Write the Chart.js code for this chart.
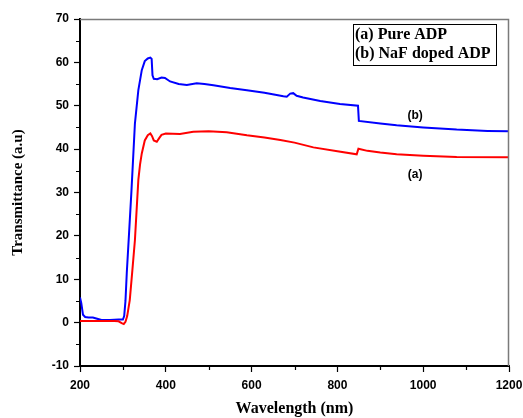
<!DOCTYPE html>
<html>
<head>
<meta charset="utf-8">
<script src="https://cdn.jsdelivr.net/npm/chart.js@4/dist/chart.umd.min.js"></script>
<style>
html,body{margin:0;padding:0;background:#fff;}
canvas{display:block;}
</style>
</head>
<body>
<canvas id="c" width="523" height="418"></canvas>
<script>
// (a) Pure ADP
const wavelengthA = [200,250,280,290,297,302,306,310,316,322,328,332,336,340,344,351,358,364,368,372,379,385,390,400,433,464,500,542,589,630,667,700,744,800,845,849,870,900,938,1000,1078,1200];
const transA      = [0.4,0.4,0.4,0.3,-0.1,-0.3,0.2,1.5,5.2,12,19,26,32.9,36.5,39,42,43.2,43.6,43.0,42.0,41.7,42.6,43.3,43.6,43.5,44.0,44.1,43.9,43.2,42.7,42.1,41.5,40.4,39.5,38.8,40.1,39.6,39.2,38.8,38.5,38.2,38.1];
// (b) NaF doped ADP
const wavelengthB = [200,203,207,212,220,230,240,250,270,290,300,303,306,309,314,320,328,336,344,351,358,364,367,369,372,380,390,398,410,430,449,472,490,511,550,589,630,674,682,690,697,705,720,760,806,848,850,900,938,1000,1078,1150,1200];
const transB      = [5.8,4.5,1.8,1.3,1.2,1.2,0.9,0.6,0.6,0.7,0.7,1.5,5,11.4,20,30.5,45.9,53.6,58.2,60.3,60.9,61.1,60.8,57,56.2,56.1,56.5,56.4,55.6,55.0,54.8,55.2,55.0,54.7,54.1,53.6,53.0,52.2,52.1,52.8,52.9,52.3,51.9,51.1,50.4,50.0,46.5,45.9,45.5,45.0,44.5,44.2,44.1];

const seriesNames = ['(a) Pure ADP', '(b) NaF doped ADP'];
const curveLabels = ['(a)', '(b)'];
const curveLabelPos = [[981, 34], [981, 47.8]];
const yMinorTicks = [-5,5,15,25,35,45,55,65];
const xMinorTicks = [300,500,700,900,1100];

const toPts = (xs, ys) => xs.map((x, i) => ({x: x, y: ys[i]}));

const extras = {
  id: 'extras',
  afterDraw(chart) {
    const ctx = chart.ctx;
    const a = chart.chartArea;
    const xs = chart.scales.x, ys = chart.scales.y;
    ctx.save();
    // top / right frame
    ctx.strokeStyle = '#7a7a7a';
    ctx.lineWidth = 1.5;
    ctx.beginPath();
    ctx.moveTo(a.left, a.top + 0.5);
    ctx.lineTo(a.right - 0.5, a.top + 0.5);
    ctx.lineTo(a.right - 0.5, a.bottom);
    ctx.stroke();
    // minor ticks
    ctx.strokeStyle = '#000';
    ctx.lineWidth = 1.2;
    ctx.beginPath();
    yMinorTicks.forEach(v => {
      const p = Math.round(ys.getPixelForValue(v)) + 0.5;
      ctx.moveTo(a.left - 4, p); ctx.lineTo(a.left, p);
    });
    xMinorTicks.forEach(v => {
      const p = Math.round(xs.getPixelForValue(v)) + 0.5;
      ctx.moveTo(p, a.bottom); ctx.lineTo(p, a.bottom + 4);
    });
    ctx.stroke();
    // curve labels
    ctx.fillStyle = '#000';
    ctx.font = 'bold 12px "Liberation Sans", Arial, sans-serif';
    ctx.textAlign = 'center';
    ctx.textBaseline = 'middle';
    curveLabels.forEach((t, i) => {
      ctx.fillText(t, xs.getPixelForValue(curveLabelPos[i][0]), ys.getPixelForValue(curveLabelPos[i][1]));
    });
    // legend box
    const bx = 353, by = 24, bw = 143, bh = 41;
    ctx.strokeStyle = '#000';
    ctx.lineWidth = 1;
    ctx.strokeRect(bx + 0.5, by + 0.5, bw, bh);
    ctx.font = 'bold 16px "Liberation Serif", "Times New Roman", serif';
    ctx.textAlign = 'left';
    ctx.fillText(seriesNames[0], bx + 2, by + 11);
    ctx.fillText(seriesNames[1], bx + 2, by + 30);
    ctx.restore();
  }
};

new Chart(document.getElementById('c'), {
  type: 'line',
  data: {
    datasets: [
      {label: seriesNames[0], data: toPts(wavelengthA, transA), borderColor: '#ff0000', borderWidth: 2, pointRadius: 0, tension: 0, fill: false},
      {label: seriesNames[1], data: toPts(wavelengthB, transB), borderColor: '#0000ff', borderWidth: 2, pointRadius: 0, tension: 0, fill: false}
    ]
  },
  options: {
    responsive: false,
    animation: false,
    devicePixelRatio: 1,
    layout: {padding: {top: 19, right: 0, left: 0, bottom: 0}},
    plugins: {legend: {display: false}, tooltip: {enabled: false}},
    scales: {
      x: {
        type: 'linear', min: 200, max: 1200,
        afterFit: s => { s.height = 52; s.paddingRight = 14; s.paddingLeft = 0; },
        ticks: {stepSize: 200, padding: 6, color: '#000', callback: v => String(v), font: {family: '"Liberation Sans", Arial, sans-serif', size: 12, weight: 'bold'}},
        grid: {drawOnChartArea: false, drawTicks: true, tickLength: 6, tickColor: '#000', tickWidth: 1.2},
        border: {color: '#000', width: 2},
        title: {display: true, text: 'Wavelength (nm)', color: '#000', padding: {top: 0, bottom: 0}, font: {family: '"Liberation Serif", "Times New Roman", serif', size: 16, weight: 'bold'}}
      },
      y: {
        type: 'linear', min: -10, max: 70,
        afterFit: s => { s.width = 80; },
        ticks: {stepSize: 10, padding: 5, color: '#000', font: {family: '"Liberation Sans", Arial, sans-serif', size: 12, weight: 'bold'}},
        grid: {drawOnChartArea: false, drawTicks: true, tickLength: 6, tickColor: '#000', tickWidth: 1.2},
        border: {color: '#000', width: 2},
        title: {display: true, text: 'Transmittance (a.u)', color: '#000', padding: {top: 9, bottom: 0}, font: {family: '"Liberation Serif", "Times New Roman", serif', size: 15, weight: 'bold'}}
      }
    }
  },
  plugins: [extras]
});
</script>
</body>
</html>
